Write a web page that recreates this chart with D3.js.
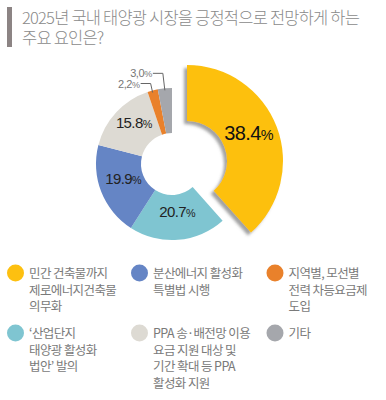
<!DOCTYPE html>
<html><head><meta charset="utf-8">
<script src="https://cdn.jsdelivr.net/npm/d3@7"></script>
<style>
body{margin:0;background:#fff;}
svg{display:block;}
</style></head>
<body>
<svg id="c" width="386" height="400"></svg>
<script>
const titleLines = ["2025년 국내 태양광 시장을 긍정적으로 전망하게 하는", "주요 요인은?"];
const categories = [
  "민간 건축물까지 제로에너지건축물 의무화",
  "‘산업단지 태양광 활성화 법안’ 발의",
  "분산에너지 활성화 특별법 시행",
  "PPA 송·배전망 이용 요금 지원 대상 및 기간 확대 등 PPA 활성화 지원",
  "지역별, 모선별 전력 차등요금제 도입",
  "기타"
];
const values = [38.4, 20.7, 19.9, 15.8, 2.2, 3.0];
const valueLabels = ["38.4", "20.7", "19.9", "15.8", "2,2", "3,0"];
const colors = ["#fdc010", "#7fc5d1", "#6585c5", "#dddad3", "#e9812b", "#a5a7ac"];
const legendLines = [
  ["민간 건축물까지", "제로에너지건축물", "의무화"],
  ["‘산업단지", "태양광 활성화", "법안’ 발의"],
  ["분산에너지 활성화", "특별법 시행"],
  ["PPA 송·배전망 이용", "요금 지원 대상 및", "기간 확대 등 PPA", "활성화 지원"],
  ["지역별, 모선별", "전력 차등요금제", "도입"],
  ["기타"]
];
const legendOrder = [0, 2, 4, 1, 3, 5];

const svg = d3.select("#c");
const font = "'Noto Sans CJK KR', 'Noto Sans', sans-serif";

const defs = svg.append("defs");
const f = defs.append("filter").attr("id", "sh").attr("x", "-30%").attr("y", "-30%").attr("width", "160%").attr("height", "160%");
f.append("feDropShadow").attr("dx", -3).attr("dy", 3).attr("stdDeviation", 1.6).attr("flood-color", "#555").attr("flood-opacity", 0.55);

// title
svg.append("rect").attr("x", 7).attr("y", 7).attr("width", 5).attr("height", 40).attr("fill", "#8c8484");
const title = svg.append("text")
  .attr("font-family", font).attr("font-size", 16.5).attr("font-weight", 300)
  .attr("fill", "#8a8a8a");
const titleSpans = title.selectAll("tspan").data(titleLines).join("tspan")
  .attr("x", 22).attr("y", (d, i) => 24 + i * 20)
  .text(d => d);
// condense line spacing to match the reference width of line 1
{
  const n0 = titleSpans.nodes()[0];
  const w = n0.getComputedTextLength();
  const chars = titleLines[0].length;
  const ls = (338 - w) / (chars - 1);
  title.attr("letter-spacing", ls.toFixed(2));
}

// donut
const cx = 172, cy = 164;
const rOuter = 76, rInner = 31;
const pie = d3.pie().sort(null).value(d => d)(values);
const arc = d3.arc().innerRadius(rInner).outerRadius(rOuter);
const bigArc = d3.arc().innerRadius(40).outerRadius(96);
const explode = [15, -3];

const g = svg.append("g").attr("transform", `translate(${cx},${cy})`);
pie.forEach((p, i) => {
  if (i === 0) return;
  g.append("path").attr("d", arc(p)).attr("fill", colors[i]);
});
const gy = g.append("g").attr("transform", `translate(${explode[0]},${explode[1]})`);
gy.append("path").attr("d", bigArc(pie[0])).attr("fill", colors[0]).attr("filter", "url(#sh)");

function addPct(sel, val, size, color) {
  const t = sel.append("text")
    .attr("text-anchor", "middle")
    .attr("font-family", "'Liberation Sans', Arial, sans-serif")
    .attr("font-size", size).attr("fill", color)
    .attr("letter-spacing", -0.6);
  t.append("tspan").text(val);
  t.append("tspan").attr("font-size", size * 0.72).text("%");
  return t;
}
{
  const c = bigArc.centroid(pie[0]);
  addPct(gy, valueLabels[0], 20, "#111").attr("x", c[0] - 2).attr("y", c[1] + 3);
}
[1, 2, 3].forEach(i => {
  const c = arc.centroid(pie[i]);
  addPct(g, valueLabels[i], 15, "#222").attr("x", c[0] + 1).attr("y", c[1]);
});

const leaderRise = {4: 7, 5: 15};
[4, 5].forEach(i => {
  const p = pie[i];
  const mid = (p.startAngle + p.endAngle) / 2;
  const ox = Math.sin(mid) * rOuter, oy = -Math.cos(mid) * rOuter;
  const ey = oy - leaderRise[i];
  const ex = ox - 2;
  const lx = ex - 10;
  g.append("polyline")
    .attr("points", `${ox},${oy + 2} ${ex},${ey} ${lx},${ey}`)
    .attr("fill", "none").attr("stroke", "#666").attr("stroke-width", 1);
  const t = g.append("text")
    .attr("x", lx - 1).attr("y", ey + 4)
    .attr("text-anchor", "end")
    .attr("font-family", "'Liberation Sans', Arial, sans-serif")
    .attr("font-size", 11).attr("fill", "#777").attr("letter-spacing", -0.4);
  t.append("tspan").text(valueLabels[i]);
  t.append("tspan").attr("font-size", 9).text("%");
});

// legend
const colX = [15.5, 139.5, 275];
const rowY = [273, 333];
const lineH = 16.5;
legendOrder.forEach((ci, k) => {
  const col = k % 3, row = Math.floor(k / 3);
  const lg = svg.append("g").attr("transform", `translate(${colX[col]},${rowY[row]})`);
  lg.append("circle").attr("r", 8.5).attr("fill", colors[ci]);
  lg.append("text")
    .attr("font-family", font).attr("font-size", 12.5)
    .attr("letter-spacing", -0.6)
    .attr("fill", "#7a7a7a")
    .selectAll("tspan").data(legendLines[ci]).join("tspan")
    .attr("x", 13.5).attr("y", (d, i) => 5 + i * lineH)
    .text(d => d);
});
</script>
</body></html>
